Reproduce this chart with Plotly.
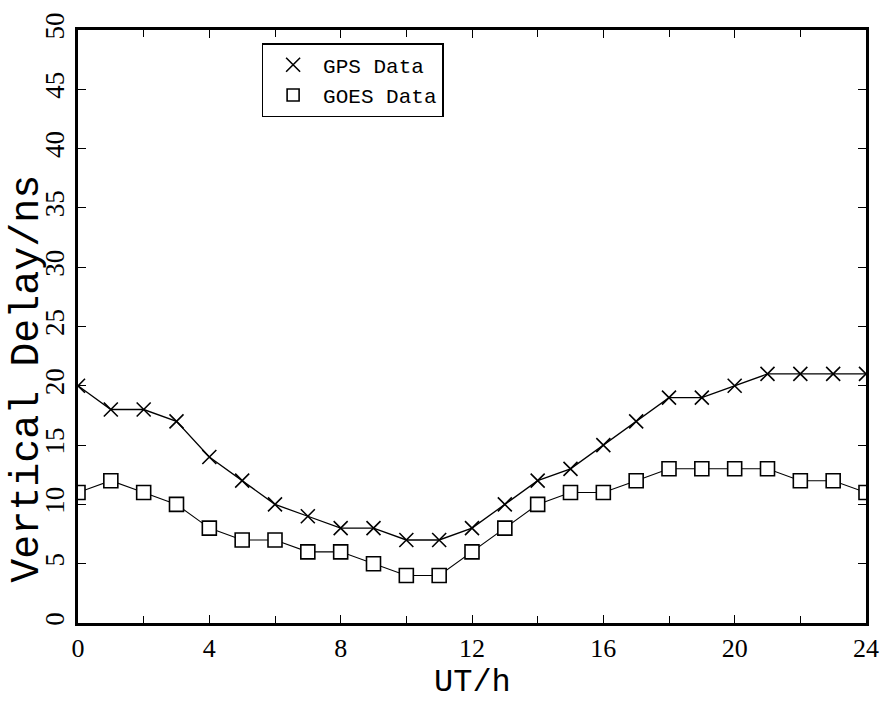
import plotly.graph_objects as go

hours = list(range(25))
gps = [20, 18, 18, 17, 14, 12, 10, 9, 8, 8, 7, 7, 8, 10, 12, 13, 15, 17, 19, 19, 20, 21, 21, 21, 21]
goes = [11, 12, 11, 10, 8, 7, 7, 6, 6, 5, 4, 4, 6, 8, 10, 11, 11, 12, 13, 13, 13, 13, 12, 12, 11]
x_ticks = [0, 4, 8, 12, 16, 20, 24]
y_ticks = [0, 5, 10, 15, 20, 25, 30, 35, 40, 45, 50]

TICKFONT = "'Liberation Serif', 'Times New Roman', Times, serif"
MONO = "'Liberation Mono', 'Courier New', Courier, monospace"

gps_marker = dict(symbol="x-thin-open", size=14, color="black", line=dict(width=1.6, color="black"))
goes_marker = dict(symbol="square", size=14, color="white", line=dict(width=1.6, color="black"))

fig = go.Figure()
fig.add_trace(go.Scatter(
    x=hours, y=gps, mode="lines+markers", name="GPS Data", showlegend=False,
    line=dict(color="black", width=1.3), marker=gps_marker,
))
fig.add_trace(go.Scatter(
    x=hours, y=goes, mode="lines+markers", name="GOES Data", showlegend=False,
    line=dict(color="black", width=1.1), marker=goes_marker,
))
# legend entries (symbol only, as in the reference)
fig.add_trace(go.Scatter(x=[None], y=[None], mode="markers", name="GPS Data", marker=gps_marker))
fig.add_trace(go.Scatter(x=[None], y=[None], mode="markers", name="GOES Data",
                         marker=dict(symbol="square-open", size=12, color="black", line=dict(width=1.6))))

fig.update_layout(
    width=891, height=704,
    margin=dict(l=78, r=20, t=20, b=81),
    paper_bgcolor="white", plot_bgcolor="white",
    font=dict(family=TICKFONT, color="black"),
    showlegend=True,
    legend=dict(
        x=0.233, y=0.978, xanchor="left", yanchor="top",
        bgcolor="white", bordercolor="black", borderwidth=1.5,
        font=dict(family=MONO, size=21, color="black"),
        itemwidth=50, tracegroupgap=0,
    ),
    annotations=[
        dict(text="UT/h", xref="paper", yref="paper", x=0.5, y=-0.101,
             xanchor="center", yanchor="middle", showarrow=False,
             font=dict(family=MONO, size=32, color="black")),
        dict(text="Vertical Delay/ns", xref="paper", yref="paper", x=-0.064, y=0.411,
             xanchor="center", yanchor="middle", showarrow=False, textangle=-90,
             font=dict(family=MONO, size=40, color="black")),
    ],
)
fig.update_xaxes(
    range=[0, 24], tickvals=x_ticks, ticktext=[str(v) for v in x_ticks],
    ticks="inside", ticklen=8, tickwidth=1.3, tickcolor="black",
    minor=dict(dtick=2, ticks="inside", ticklen=7, tickwidth=1.3, tickcolor="black"),
    showline=True, linecolor="black", linewidth=2.5, mirror="ticks",
    showgrid=False, zeroline=False,
    tickfont=dict(family=TICKFONT, size=26),
)
fig.update_yaxes(
    range=[0, 50], tickvals=y_ticks, ticktext=[str(v) for v in y_ticks],
    ticks="inside", ticklen=8, tickwidth=1.3, tickcolor="black", tickangle=-90,
    showline=True, linecolor="black", linewidth=2.5, mirror="ticks",
    showgrid=False, zeroline=False,
    tickfont=dict(family=TICKFONT, size=27),
)

fig.write_html("out.html")
